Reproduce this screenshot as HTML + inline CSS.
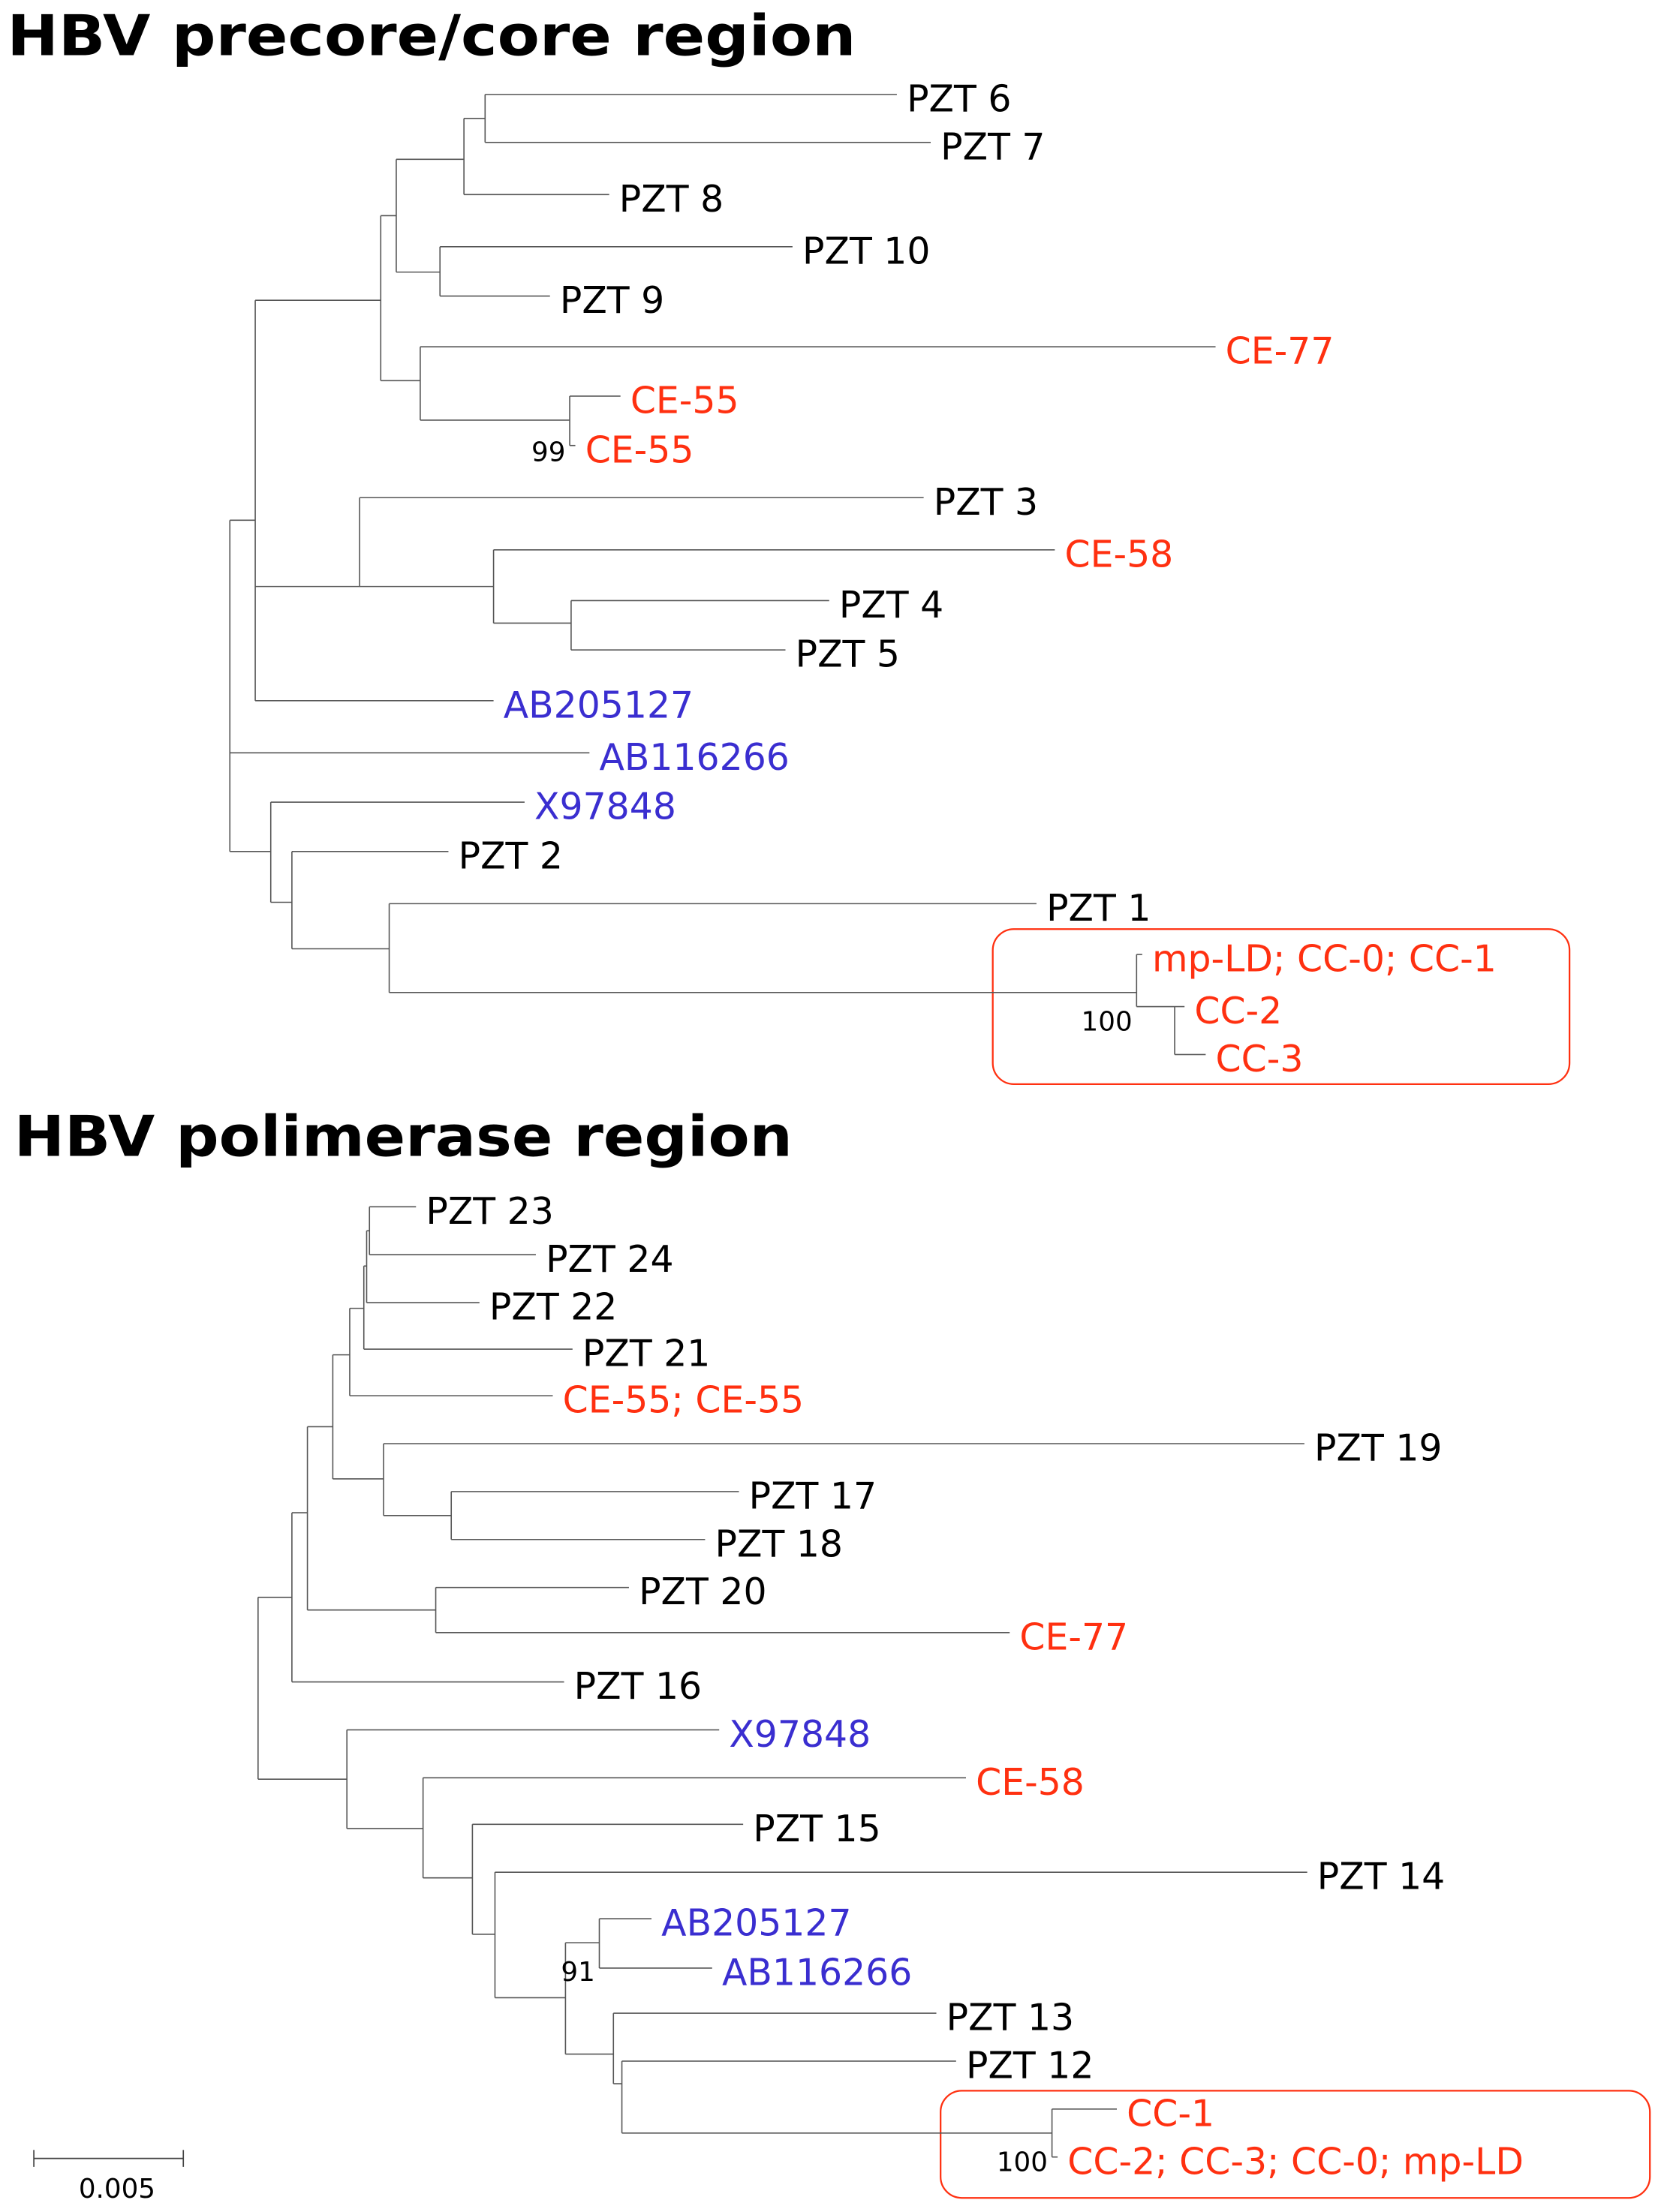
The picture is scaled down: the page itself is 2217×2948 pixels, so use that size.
<!DOCTYPE html>
<html><head><meta charset="utf-8"><style>
html,body{margin:0;padding:0;background:#fff;}
svg{display:block;}
text{font-family:"DejaVu Sans","Liberation Sans",sans-serif;}
</style></head><body>
<svg id="chart" width="2217" height="2948" viewBox="0 0 1180 1569" preserveAspectRatio="none" xmlns="http://www.w3.org/2000/svg">
<rect x="0" y="0" width="1180" height="1569" fill="#fff"/>
<text x="5" y="39" font-size="40" font-weight="bold" textLength="602" lengthAdjust="spacingAndGlyphs">HBV precore/core region</text>
<text x="10" y="820" font-size="40" font-weight="bold" textLength="552" lengthAdjust="spacingAndGlyphs">HBV polimerase region</text>
<rect x="704" y="659" width="409" height="110" rx="15" fill="none" stroke="#ff3010" stroke-width="1.2"/>
<rect x="667" y="1483" width="503" height="76" rx="15" fill="none" stroke="#ff3010" stroke-width="1.2"/>
<g id="scale" stroke="#444" stroke-width="0.9">
<line x1="24" y1="1531" x2="130" y2="1531"/><line x1="24" y1="1525" x2="24" y2="1537"/><line x1="130" y1="1525" x2="130" y2="1537"/>
</g>
<text x="83" y="1559" font-size="19" text-anchor="middle">0.005</text>
<g id="edges" stroke="#555" stroke-width="0.85" fill="none"></g>
<g id="labels"></g>
</svg>
<script>
// Tree 1 nodes: id, parent, x (cumulative distance position), y (row)
const t1Ids =   ['R','A','AB116266','B','C','D','AB205127','E','F','G','I','H','PZT 8','PZT 6','PZT 7','PZT 10','PZT 9','CE-77','J','CE-55','CE-55b','PZT 3','K','CE-58','L','PZT 4','PZT 5','X97848','M','PZT 2','N','PZT 1','O','mp-LD; CC-0; CC-1','P','CC-2','CC-3'];
const t1Parent =[null,'R','R','R','A','A','A','C','C','E','E','G','G','H','H','I','I','F','F','J','J','D','D','K','K','L','L','B','B','M','M','N','N','O','O','P','P'];
const t1X =     [163,181,418,192,270,255,350,281,298,329,312,344,432,636,660,562,390,862,404,440,408,655,350,748,405,588,557,372,207,318,276,735,806,810,833,840,855];
const t1Y =     [534,369,534,604,213,416,497,153,270,113,193,84,138,67,101,175,210,246,298,281,316,353,416,390,442,426,461,569,640,604,673,641,704,677,714,714,748];
// Tree 2
const t2Ids =   ['R2','S','T','U','PZT 16','V','W','X','Y','Z','CE-55; CE-55','Z2','PZT 21','Z3','PZT 22','PZT 23','PZT 24','PZT 19','Q','PZT 17','PZT 18','PZT 20','CE-77 ','X97848 ','T2','CE-58 ','T3','PZT 15','T4','PZT 14','T5','T6','T7','AB205127 ','AB116266 ','PZT 13','T8','PZT 12','T9','CC-1','CC-2; CC-3; CC-0; mp-LD'];
const t2Parent =[null,'R2','R2','S','S','U','U','V','V','X','X','Z','Z','Z2','Z2','Z3','Z3','Y','Y','Q','Q','W','W','T','T','T2','T2','T3','T3','T4','T4','T5','T5','T6','T6','T7','T7','T8','T8','T9','T9'];
const t2X =     [183,207,246,218,400,236,309,248,272,258,392,260,406,262,340,295,380,925,320,524,500,446,716,510,300,685,335,527,351,927,401,425,435,462,505,664,441,678,746,792,750];
const t2Y =     [1197,1133,1262,1073,1193,1012,1142,961,1049,928,990,898,957,873,924,856,890,1024,1075,1058,1092,1126,1158,1227,1297,1261,1332,1294,1372,1328,1417,1378,1457,1361,1396,1428,1478,1462,1513,1496,1530];
const redTips = ['CE-77','CE-55','CE-55b','CE-58','mp-LD; CC-0; CC-1','CC-2','CC-3','CE-55; CE-55','CE-77 ','CE-58 ','CC-1','CC-2; CC-3; CC-0; mp-LD'];
const blueTips = ['AB205127','AB116266','X97848','X97848 ','AB205127 ','AB116266 '];
const bootLabels = ['99','100','91','100'];
const bootNodes = ['J','O','T6','T9'];
const bootTree = [1,1,2,2];

const NS='http://www.w3.org/2000/svg';
const edges=document.getElementById('edges');
const labels=document.getElementById('labels');
const nodeMaps=[{},{}];
function mk(tag,attrs,parent){const e=document.createElementNS(NS,tag);for(const k in attrs)e.setAttribute(k,attrs[k]);parent.appendChild(e);return e;}
function drawTree(ids,par,xs,ys,ti){
  const map=nodeMaps[ti];
  ids.forEach((id,i)=>map[id]={x:xs[i],y:ys[i],p:par[i],kids:[]});
  ids.forEach(id=>{const n=map[id];if(n.p)map[n.p].kids.push(id);});
  ids.forEach(id=>{
    const n=map[id];
    if(n.p){
      const p=map[n.p];
      const h=mk('line',{x1:p.x,y1:n.y,x2:n.x,y2:n.y},edges);
      
      
    }
    if(n.kids.length){
      let ymin=n.y,ymax=n.y;
      n.kids.forEach(k=>{ymin=Math.min(ymin,map[k].y);ymax=Math.max(ymax,map[k].y);});
      const v=mk('line',{x1:n.x,y1:ymin,x2:n.x,y2:ymax},edges);
      
      
    } else {
      let col='#000';
      if(redTips.includes(id))col='#ff3010';
      if(blueTips.includes(id))col='#3a2ed0';
      const t=mk('text',{x:n.x+7,y:n.y+12,'font-size':26,fill:col},labels);
      t.textContent=id.replace('CE-55b','CE-55').trim();
      
      
    }
  });
}
drawTree(t1Ids,t1Parent,t1X,t1Y,0);
drawTree(t2Ids,t2Parent,t2X,t2Y,1);
bootLabels.forEach((lab,i)=>{
  const n=nodeMaps[bootTree[i]-1][bootNodes[i]];
  const t=mk('text',{x:n.x-3,y:n.y+(i==0?29:27),'font-size':19,'text-anchor':'end',fill:'#000'},labels);
  t.textContent=lab;
  
  
});
</script>
</body></html>
